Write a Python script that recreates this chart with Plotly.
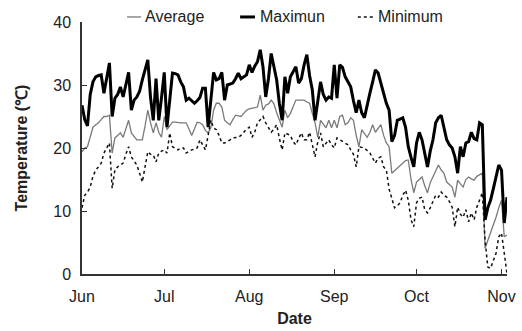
import pandas as pd
import plotly.graph_objects as go

start_date = "2013-06-01"

maximum = [
    26.8, 24.5, 23.5, 28.5, 30.5, 31.3, 31.5, 31.6, 28.7, 31,
    33.5, 25, 27.9, 28.5, 29.7, 28.1, 30, 32, 26, 27.6,
    28.1, 29, 30.8, 32.5, 34, 28, 24.4, 31, 24.4, 28,
    32, 23.3, 28, 31.9, 31.8, 31.6, 30.5, 29.7, 27.6, 27.9,
    27.5, 27.1, 27.5, 28, 29.5, 29.5, 23.3, 28, 32, 30.8,
    31, 32, 27.6, 30, 30.2, 30.3, 31, 31.9, 31, 31.3,
    31.6, 33.2, 32, 33, 33.7, 35.6, 32.9, 28.1, 31, 35,
    32.9, 30.8, 27, 24.4, 31.3, 28.7, 31.3, 32, 32.9, 30.3,
    31, 33.2, 34.8, 31.5, 29.2, 24.4, 27.5, 30.5, 28.5, 27.6,
    28.1, 27.9, 33.2, 27.9, 33.2, 32.8, 31.3, 30.5, 29.7, 27.5,
    25.6, 27.6, 25.6, 24.8, 27, 28.7, 30.5, 32.4, 31.9, 30.3,
    28.5, 27.1, 26, 21, 22, 24.4, 24.6, 24.8, 23.3, 20.2,
    18.5, 17, 20.8, 22.5, 21.3, 19, 17, 19.5, 21.3, 24,
    24.8, 25.2, 23.3, 21.3, 20.5, 20, 18.6, 16, 20.2, 18.6,
    20.8, 21, 22.5, 21.5, 21.3, 24, 23.7, 8.6, 10.5, 11.7,
    13.5, 15.5, 17.3, 16.5, 8.1, 12.2,
]

average = [
    19.4, 20, 20.2, 22, 23.3, 23.7, 24, 24.5, 25, 25,
    25.2, 19.2, 21.6, 22, 22.4, 21.7, 23, 24.4, 22.4, 21.8,
    21.3, 21.3, 21.3, 23.5, 26, 24, 22.4, 24, 22.5, 21.7,
    25, 22.9, 23.5, 24.1, 24.1, 24, 24, 24, 24, 23,
    22, 23, 24.1, 24, 23.7, 22.8, 22.4, 23.2, 26, 27.1,
    27.1, 26.5, 24.4, 24, 23.7, 24.5, 25.2, 25.1, 25, 25.5,
    26, 26.2, 26.3, 26.4, 26.5, 28.4, 26, 26.8, 27, 27.6,
    27, 25.6, 24.5, 23.3, 26, 24.8, 25.5, 26.5, 27.6, 27.6,
    27.6, 27.6, 27.3, 27.1, 25.5, 24, 21.7, 24.4, 23.8, 23.2,
    24.4, 23.2, 24.4, 23.2, 25, 25.2, 23.7, 24, 24.8, 24.4,
    22, 20.2, 22.9, 22.3, 21.7, 22.5, 23.7, 22.5, 23.2, 23.7,
    22, 20.8, 20.2, 16, 16.4, 16.8, 17.2, 17.6, 18, 18.1,
    15, 12.9, 14.6, 15, 15.4, 14, 12.9, 14.5, 15.4, 16.5,
    17.3, 16.5, 16, 14.6, 14.2, 13.8, 12.2, 14.9, 14.3, 13.8,
    15, 15.4, 15.1, 14.9, 15.5, 15.7, 16, 4.1, 5.3, 6.5,
    8, 9, 10.5, 11.7, 5.9, 6.2,
]

minimum = [
    10.5, 12.5, 13, 13.8, 15.5, 16.5, 17, 17.6, 19.2, 20,
    20.8, 13.6, 16.5, 17, 17.3, 17.6, 19, 20.2, 18.6, 18,
    17.3, 16, 14.6, 17, 19.4, 19, 18.9, 17.8, 19.2, 19.5,
    19.7, 19.2, 22.4, 20.2, 20, 19.7, 20, 20, 19.2, 19.5,
    19.7, 19.8, 20, 21.3, 20.5, 19.7, 22, 24.4, 23.2, 22.9,
    22, 20.8, 20.8, 21, 21.3, 21.6, 21.7, 21.7, 22, 22.5,
    23, 23.3, 21.7, 22.5, 24, 24.5, 25, 24, 23.3, 22.5,
    23, 23.7, 21.5, 19.7, 22.4, 22.2, 22, 21, 20.5, 21.5,
    22.4, 21.3, 21.3, 22.5, 20.5, 18.6, 21, 22.4, 20.2, 20.8,
    21.3, 20.5, 20, 21.6, 21.3, 21, 20.8, 20.5, 19.7, 19,
    17, 20.2, 20.1, 20, 19.6, 19.2, 18.4, 17.6, 18.4, 18.6,
    17, 16.5, 13.5, 12, 10.5, 10.8, 11.3, 12.5, 13.3, 11.7,
    8.6, 7.5, 11.3, 12, 12.2, 10.2, 9.7, 10.5, 11.4, 12.5,
    12.2, 13, 12.5, 12.2, 11.5, 10.6, 7.5, 10.6, 9.5, 9,
    10.2, 8.3, 9.7, 8.6, 10.6, 11.7, 12.9, 5.4, 1.1, 0.9,
    2, 3.3, 5.9, 6.5, 3.3, 0,
]

series_names = ["Average", "Maximun", "Minimum"]

dates = pd.date_range(start_date, periods=len(maximum), freq="D")

month_ticks = ["2013-06-01", "2013-07-01", "2013-08-01", "2013-09-01", "2013-10-01", "2013-11-01"]
month_labels = ["Jun", "Jul", "Aug", "Sep", "Oct", "Nov"]
y_ticks = [0, 10, 20, 30, 40]

FONT = "Arial, Liberation Sans, sans-serif"
styles = [
    dict(color="#7a7a7a", width=1.3),
    dict(color="#000000", width=3),
    dict(color="#111111", width=1.5, dash="dot"),
]

fig = go.Figure()
for name, vals, st in zip(series_names, [average, maximum, minimum], styles):
    fig.add_trace(go.Scatter(x=dates, y=vals, name=name, mode="lines",
                             line=st, showlegend=False))

# custom compact legend (line sample + text), placed like the reference
legend_y = 1.02
legend_pos = [(0.106, 0.139, 0.144), (0.372, 0.407, 0.413), (0.649, 0.685, 0.692)]
for name, st, (x0, x1, xt) in zip(series_names, styles, legend_pos):
    fig.add_shape(type="line", xref="paper", yref="paper", x0=x0, x1=x1,
                  y0=legend_y, y1=legend_y, line=st)
    fig.add_annotation(x=xt, y=legend_y, xref="paper", yref="paper", text=name,
                       showarrow=False, xanchor="left", yanchor="middle",
                       font=dict(size=16, color="#222"))

fig.update_layout(
    width=522, height=331,
    margin=dict(l=82, r=15, t=22, b=57),
    paper_bgcolor="white", plot_bgcolor="white",
    font=dict(family=FONT, size=16, color="#222"),
    showlegend=False,
)
fig.update_xaxes(
    range=["2013-06-01", "2013-11-03"],
    tickvals=month_ticks, ticktext=month_labels,
    ticks="inside", ticklen=5, tickwidth=1.2, tickcolor="#333",
    showline=True, linecolor="#333", linewidth=1.5,
    showgrid=False, zeroline=False, automargin=False,
    ticklabelstandoff=7,
    title=dict(text="<b>Date</b>", font=dict(size=16, color="#222"), standoff=9),
    tickfont=dict(size=16, color="#222"),
)
fig.update_yaxes(
    range=[0, 40], tickvals=y_ticks,
    ticks="inside", ticklen=5, tickwidth=1.2, tickcolor="#333",
    showline=True, linecolor="#333", linewidth=1.5,
    showgrid=False, zeroline=False, automargin=False,
    ticklabelstandoff=6,
    title=dict(text="<b>Temperature (℃)</b>", font=dict(size=16, color="#222"), standoff=22),
    tickfont=dict(size=16, color="#222"),
)

fig.write_html("out.html")
